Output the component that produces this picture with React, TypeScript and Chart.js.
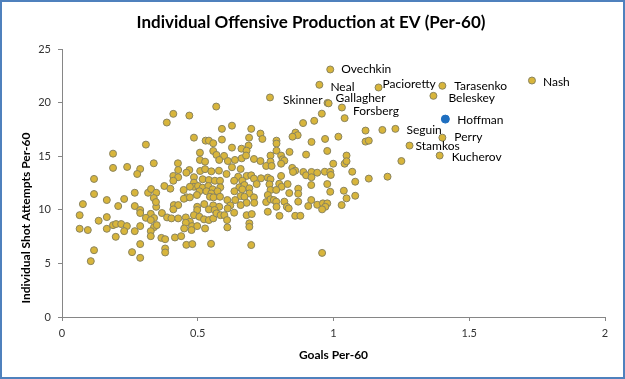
import React, { useEffect, useRef } from "react";
import { Chart, registerables } from "chart.js";

Chart.register(...registerables);

const TITLE = "Individual Offensive Production at EV (Per-60)";
const X_TITLE = "Goals Per-60";
const Y_TITLE = "Individual Shot Attempts Per-60";
const X_RANGE = [0, 2];
const X_STEP = 0.5;
const Y_RANGE = [0, 25];
const Y_STEP = 5;

// unlabelled players: goals per 60 (x) and individual shot attempts per 60 (y)
const goalsPer60 = [
  0.309, 0.188, 0.338, 0.188, 0.24, 0.288, 0.277, 0.118, 0.268, 0.118,
  0.317, 0.328, 0.347, 0.165, 0.229, 0.338, 0.077, 0.207, 0.268, 0.288,
  0.347, 0.346, 0.065, 0.165, 0.135, 0.288, 0.327, 0.309, 0.339, 0.368,
  0.327, 0.065, 0.095, 0.165, 0.188, 0.199, 0.218, 0.239, 0.229, 0.268,
  0.288, 0.339, 0.327, 0.327, 0.349, 0.198, 0.366, 0.288, 0.118, 0.258,
  0.288, 0.106, 0.568, 0.41, 0.469, 0.386, 0.626, 0.589, 0.697, 0.731,
  0.486, 0.529, 0.541, 0.589, 0.557, 0.689, 0.738, 0.508, 0.557, 0.569,
  0.626, 0.661, 0.687, 0.68, 0.597, 0.579, 0.508, 0.527, 0.611, 0.637,
  0.662, 0.678, 0.707, 0.731, 0.427, 0.428, 0.469, 0.458, 0.509, 0.527,
  0.55, 0.578, 0.626, 0.658, 0.606, 0.649, 0.68, 0.697, 0.707, 0.733,
  0.41, 0.428, 0.41, 0.486, 0.518, 0.541, 0.563, 0.582, 0.634, 0.664,
  0.377, 0.399, 0.448, 0.486, 0.486, 0.471, 0.501, 0.518, 0.539, 0.555,
  0.583, 0.653, 0.672, 0.664, 0.69, 0.717, 0.506, 0.497, 0.532, 0.55,
  0.573, 0.635, 0.69, 0.658, 0.672, 0.707, 0.459, 0.449, 0.471, 0.545,
  0.558, 0.582, 0.609, 0.638, 0.68, 0.708, 0.752, 0.412, 0.428, 0.498,
  0.524, 0.557, 0.579, 0.62, 0.658, 0.41, 0.498, 0.541, 0.562, 0.61,
  0.634, 0.387, 0.403, 0.428, 0.456, 0.486, 0.506, 0.523, 0.541, 0.557,
  0.569, 0.584, 0.598, 0.608, 0.68, 0.699, 0.471, 0.456, 0.479, 0.498,
  0.45, 0.477, 0.527, 0.609, 0.69, 0.69, 0.38, 0.416, 0.439, 0.38,
  0.38, 0.458, 0.48, 0.549, 0.697, 0.766, 0.957, 1.041, 0.929, 0.888,
  0.86, 0.868, 0.849, 1.118, 1.118, 1.13, 1.018, 0.969, 0.919, 0.79,
  0.79, 0.79, 0.977, 0.838, 0.768, 0.807, 0.899, 1.048, 1.041, 1.048,
  0.999, 0.813, 0.819, 0.768, 0.807, 0.752, 0.772, 0.848, 0.859, 0.851,
  0.889, 0.899, 0.919, 0.94, 0.968, 0.988, 0.99, 0.919, 1.069, 0.758,
  0.768, 0.807, 0.764, 0.8, 0.809, 0.831, 0.918, 0.977, 1.08, 1.13,
  0.87, 0.768, 0.789, 0.87, 0.988, 1.038, 0.837, 0.758, 0.768, 0.78,
  0.789, 0.819, 0.87, 0.918, 0.907, 0.94, 0.961, 0.977, 0.97, 0.958,
  1.03, 1.048, 1.08, 0.79, 0.828, 0.835, 0.758, 0.801, 0.859, 0.878,
  0.958, 1.18, 1.25, 1.199,
];
const shotsPer60 = [
  16.08, 15.24, 14.34, 13.91, 14.0, 13.81, 13.34, 12.88, 11.59, 11.47,
  11.59, 11.94, 11.59, 10.91, 11.01, 11.1, 10.53, 10.35, 10.35, 9.98,
  10.28, 10.72, 9.5, 9.32, 8.98, 9.7, 9.62, 9.25, 9.23, 9.7,
  9.04, 8.23, 8.11, 8.23, 8.57, 8.67, 8.67, 8.48, 8.01, 8.01,
  8.48, 8.38, 8.01, 7.54, 8.57, 7.48, 7.38, 6.8, 6.23, 6.05,
  5.52, 5.21, 19.63, 18.95, 18.79, 18.14, 17.85, 17.55, 17.55, 17.11,
  16.73, 16.45, 16.45, 16.55, 16.21, 16.73, 16.61, 15.33, 15.49, 15.12,
  15.8, 15.7, 15.99, 15.52, 15.03, 14.65, 14.65, 14.49, 14.55, 14.65,
  14.8, 15.06, 14.74, 14.55, 14.34, 13.71, 13.71, 13.46, 13.62, 13.79,
  13.59, 13.65, 13.97, 13.81, 13.34, 13.09, 13.16, 13.22, 12.91, 12.94,
  13.16, 13.04, 12.71, 13.04, 12.85, 12.78, 12.71, 12.71, 12.71, 12.71,
  12.22, 11.97, 11.85, 12.53, 12.15, 12.15, 12.22, 12.06, 12.22, 11.91,
  12.1, 12.1, 12.31, 11.91, 12.01, 12.4, 11.73, 11.38, 11.73, 11.53,
  11.73, 11.73, 11.53, 11.28, 11.22, 11.16, 11.16, 11.03, 11.16, 11.22,
  11.16, 11.22, 10.91, 10.91, 10.65, 10.65, 10.72, 10.44, 10.44, 10.28,
  10.53, 10.41, 10.28, 10.41, 10.44, 10.04, 9.98, 10.04, 9.98, 10.13,
  9.73, 9.29, 9.2, 9.2, 9.29, 9.5, 9.35, 9.11, 9.04, 9.2,
  9.67, 9.5, 9.5, 9.04, 9.5, 9.6, 8.88, 8.79, 8.48, 8.48,
  8.26, 8.11, 8.26, 8.36, 8.74, 8.41, 7.26, 7.42, 7.54, 6.39,
  6.02, 6.73, 6.8, 6.83, 6.71, 20.48, 18.97, 18.55, 18.3, 18.09,
  17.2, 16.96, 16.82, 17.39, 16.36, 16.45, 16.82, 16.61, 16.33, 16.45,
  16.18, 15.52, 15.49, 15.4, 15.06, 15.06, 15.15, 15.06, 14.3, 14.53,
  14.3, 14.71, 14.58, 14.49, 14.3, 14.09, 14.09, 13.91, 13.65, 13.53,
  13.53, 13.22, 13.53, 13.46, 13.55, 13.55, 13.25, 13.04, 13.55, 13.0,
  12.85, 13.16, 12.38, 12.43, 12.15, 12.4, 12.31, 12.4, 12.62, 12.91,
  11.97, 11.85, 11.85, 11.5, 11.68, 11.78, 11.56, 11.38, 10.98, 10.91,
  10.76, 10.76, 10.76, 10.91, 10.35, 10.47, 10.6, 10.6, 10.28, 10.04,
  10.44, 11.07, 11.31, 10.28, 10.28, 10.13, 9.82, 9.44, 9.44, 9.44,
  5.98, 17.45, 14.55, 13.09,
];

// labelled players
const namedPlayers = [
  "Ovechkin", "Neal", "Pacioretty", "Tarasenko", "Nash", "Beleskey",
  "Skinner", "Gallagher", "Forsberg", "Seguin", "Perry", "Stamkos", "Kucherov",
];
const namedGoals = [0.988, 0.948, 1.166, 1.401, 1.731, 1.368, 0.978, 0.982, 1.031, 1.228, 1.401, 1.28, 1.391];
const namedShots = [23.09, 21.66, 21.41, 21.57, 22.06, 20.63, 19.97, 19.93, 19.54, 17.55, 16.73, 15.99, 15.06];

// highlighted player
const highlightPlayers = ["Hoffman"];
const highlightGoals = [1.412];
const highlightShots = [18.46];

// label placement style: [dx, dy, align]
const labelPlacement: Record<string, [number, number, CanvasTextAlign]> = {
  Ovechkin: [11, 0, "left"],
  Neal: [11, 2, "left"],
  Pacioretty: [4, -3, "left"],
  Tarasenko: [12, 0, "left"],
  Nash: [11, 2, "left"],
  Beleskey: [15, 2, "left"],
  Skinner: [-5, -3, "right"],
  Gallagher: [7, -5, "left"],
  Forsberg: [11, 4, "left"],
  Hoffman: [12, 1, "left"],
  Seguin: [11, 1, "left"],
  Perry: [12, -1, "left"],
  Stamkos: [6, 1, "left"],
  Kucherov: [12, 2, "left"],
};

const FONT = "Lato, 'Open Sans', sans-serif";
const GOLD = "#D8B53B";
const GOLD_EDGE = "#8A845E";
const BLUE = "#1F6FC0";

const toPts = (xs: number[], ys: number[]) => xs.map((x, i) => ({ x, y: ys[i] }));

const decorPlugin = {
  id: "decor",
  beforeDraw(chart: any) {
    const { ctx, width, height } = chart;
    ctx.save();
    ctx.fillStyle = "#ffffff";
    ctx.fillRect(0, 0, width, height);
    ctx.restore();
  },
  afterDraw(chart: any) {
    const { ctx, width, height, chartArea } = chart;
    const xs = chart.scales.x;
    const ys = chart.scales.y;
    ctx.save();
    ctx.fillStyle = "#000000";
    ctx.textBaseline = "middle";
    // title
    ctx.font = `bold 17px ${FONT}`;
    ctx.textAlign = "center";
    ctx.fillText(TITLE, 311, 23);
    // x title
    ctx.font = `bold 12px ${FONT}`;
    ctx.fillText(X_TITLE, (chartArea.left + chartArea.right) / 2, 355);
    // y title
    ctx.save();
    ctx.translate(26, 218);
    ctx.rotate(-Math.PI / 2);
    ctx.fillText(Y_TITLE, 0, 0);
    ctx.restore();
    // point labels
    ctx.font = `12px ${FONT}`;
    const drawLabels = (names: string[], gx: number[], sy: number[]) => {
      names.forEach((n, i) => {
        const [dx, dy, al] = labelPlacement[n] || [11, 0, "left"];
        const px = xs.getPixelForValue(gx[i]);
        const py = ys.getPixelForValue(sy[i]);
        ctx.textAlign = al;
        ctx.fillText(n, px + dx, py + dy);
      });
    };
    drawLabels(namedPlayers, namedGoals, namedShots);
    drawLabels(highlightPlayers, highlightGoals, highlightShots);
    // outer border
    ctx.strokeStyle = "#4F81BD";
    ctx.lineWidth = 2;
    ctx.strokeRect(1, 1, width - 2, height - 2);
    ctx.restore();
  },
};

export default function App() {
  const ref = useRef<HTMLCanvasElement | null>(null);
  useEffect(() => {
    if (!ref.current) return;
    const gold = {
      pointRadius: 3.5,
      pointBackgroundColor: GOLD,
      pointBorderColor: GOLD_EDGE,
      pointBorderWidth: 1,
      showLine: false,
    };
    const chart = new Chart(ref.current, {
      type: "scatter",
      data: {
        datasets: [
          { label: "Players", data: toPts(goalsPer60, shotsPer60), ...gold },
          { label: "Named", data: toPts(namedGoals, namedShots), ...gold },
          {
            label: "Hoffman",
            data: toPts(highlightGoals, highlightShots),
            pointRadius: 4,
            pointBackgroundColor: BLUE,
            pointBorderColor: BLUE,
            pointBorderWidth: 1,
            showLine: false,
          },
        ],
      },
      options: {
        animation: false,
        responsive: false,
        devicePixelRatio: 1,
        layout: { padding: { top: 49, right: 20, left: 0, bottom: 0 } },
        plugins: {
          legend: { display: false },
          tooltip: { enabled: false },
          title: { display: false },
        },
        scales: {
          x: {
            type: "linear",
            min: X_RANGE[0],
            max: X_RANGE[1],
            ticks: {
              stepSize: X_STEP,
              color: "#333",
              font: { family: FONT, size: 11 },
              padding: 6,
              maxRotation: 0,
              callback: (v: any) => String(Number(v)),
            },
            grid: { display: true, drawOnChartArea: false, drawTicks: true, tickLength: 4, color: "#868686" },
            border: { display: true, color: "#868686", width: 1 },
            afterFit: (s: any) => { s.height = 62; },
          },
          y: {
            type: "linear",
            min: Y_RANGE[0],
            max: Y_RANGE[1],
            ticks: { stepSize: Y_STEP, color: "#333", font: { family: FONT, size: 11 }, padding: 7 },
            grid: { display: true, drawOnChartArea: false, drawTicks: true, tickLength: 4, color: "#868686" },
            border: { display: true, color: "#868686", width: 1 },
            afterFit: (s: any) => { s.width = 62; },
          },
        },
      },
      plugins: [decorPlugin],
    } as any);
    return () => chart.destroy();
  }, []);
  return (
    <div style={{ position: "absolute", left: 0, top: 0, width: 625, height: 379 }}>
      <canvas ref={ref} width={625} height={379} style={{ width: 625, height: 379 }} />
    </div>
  );
}
